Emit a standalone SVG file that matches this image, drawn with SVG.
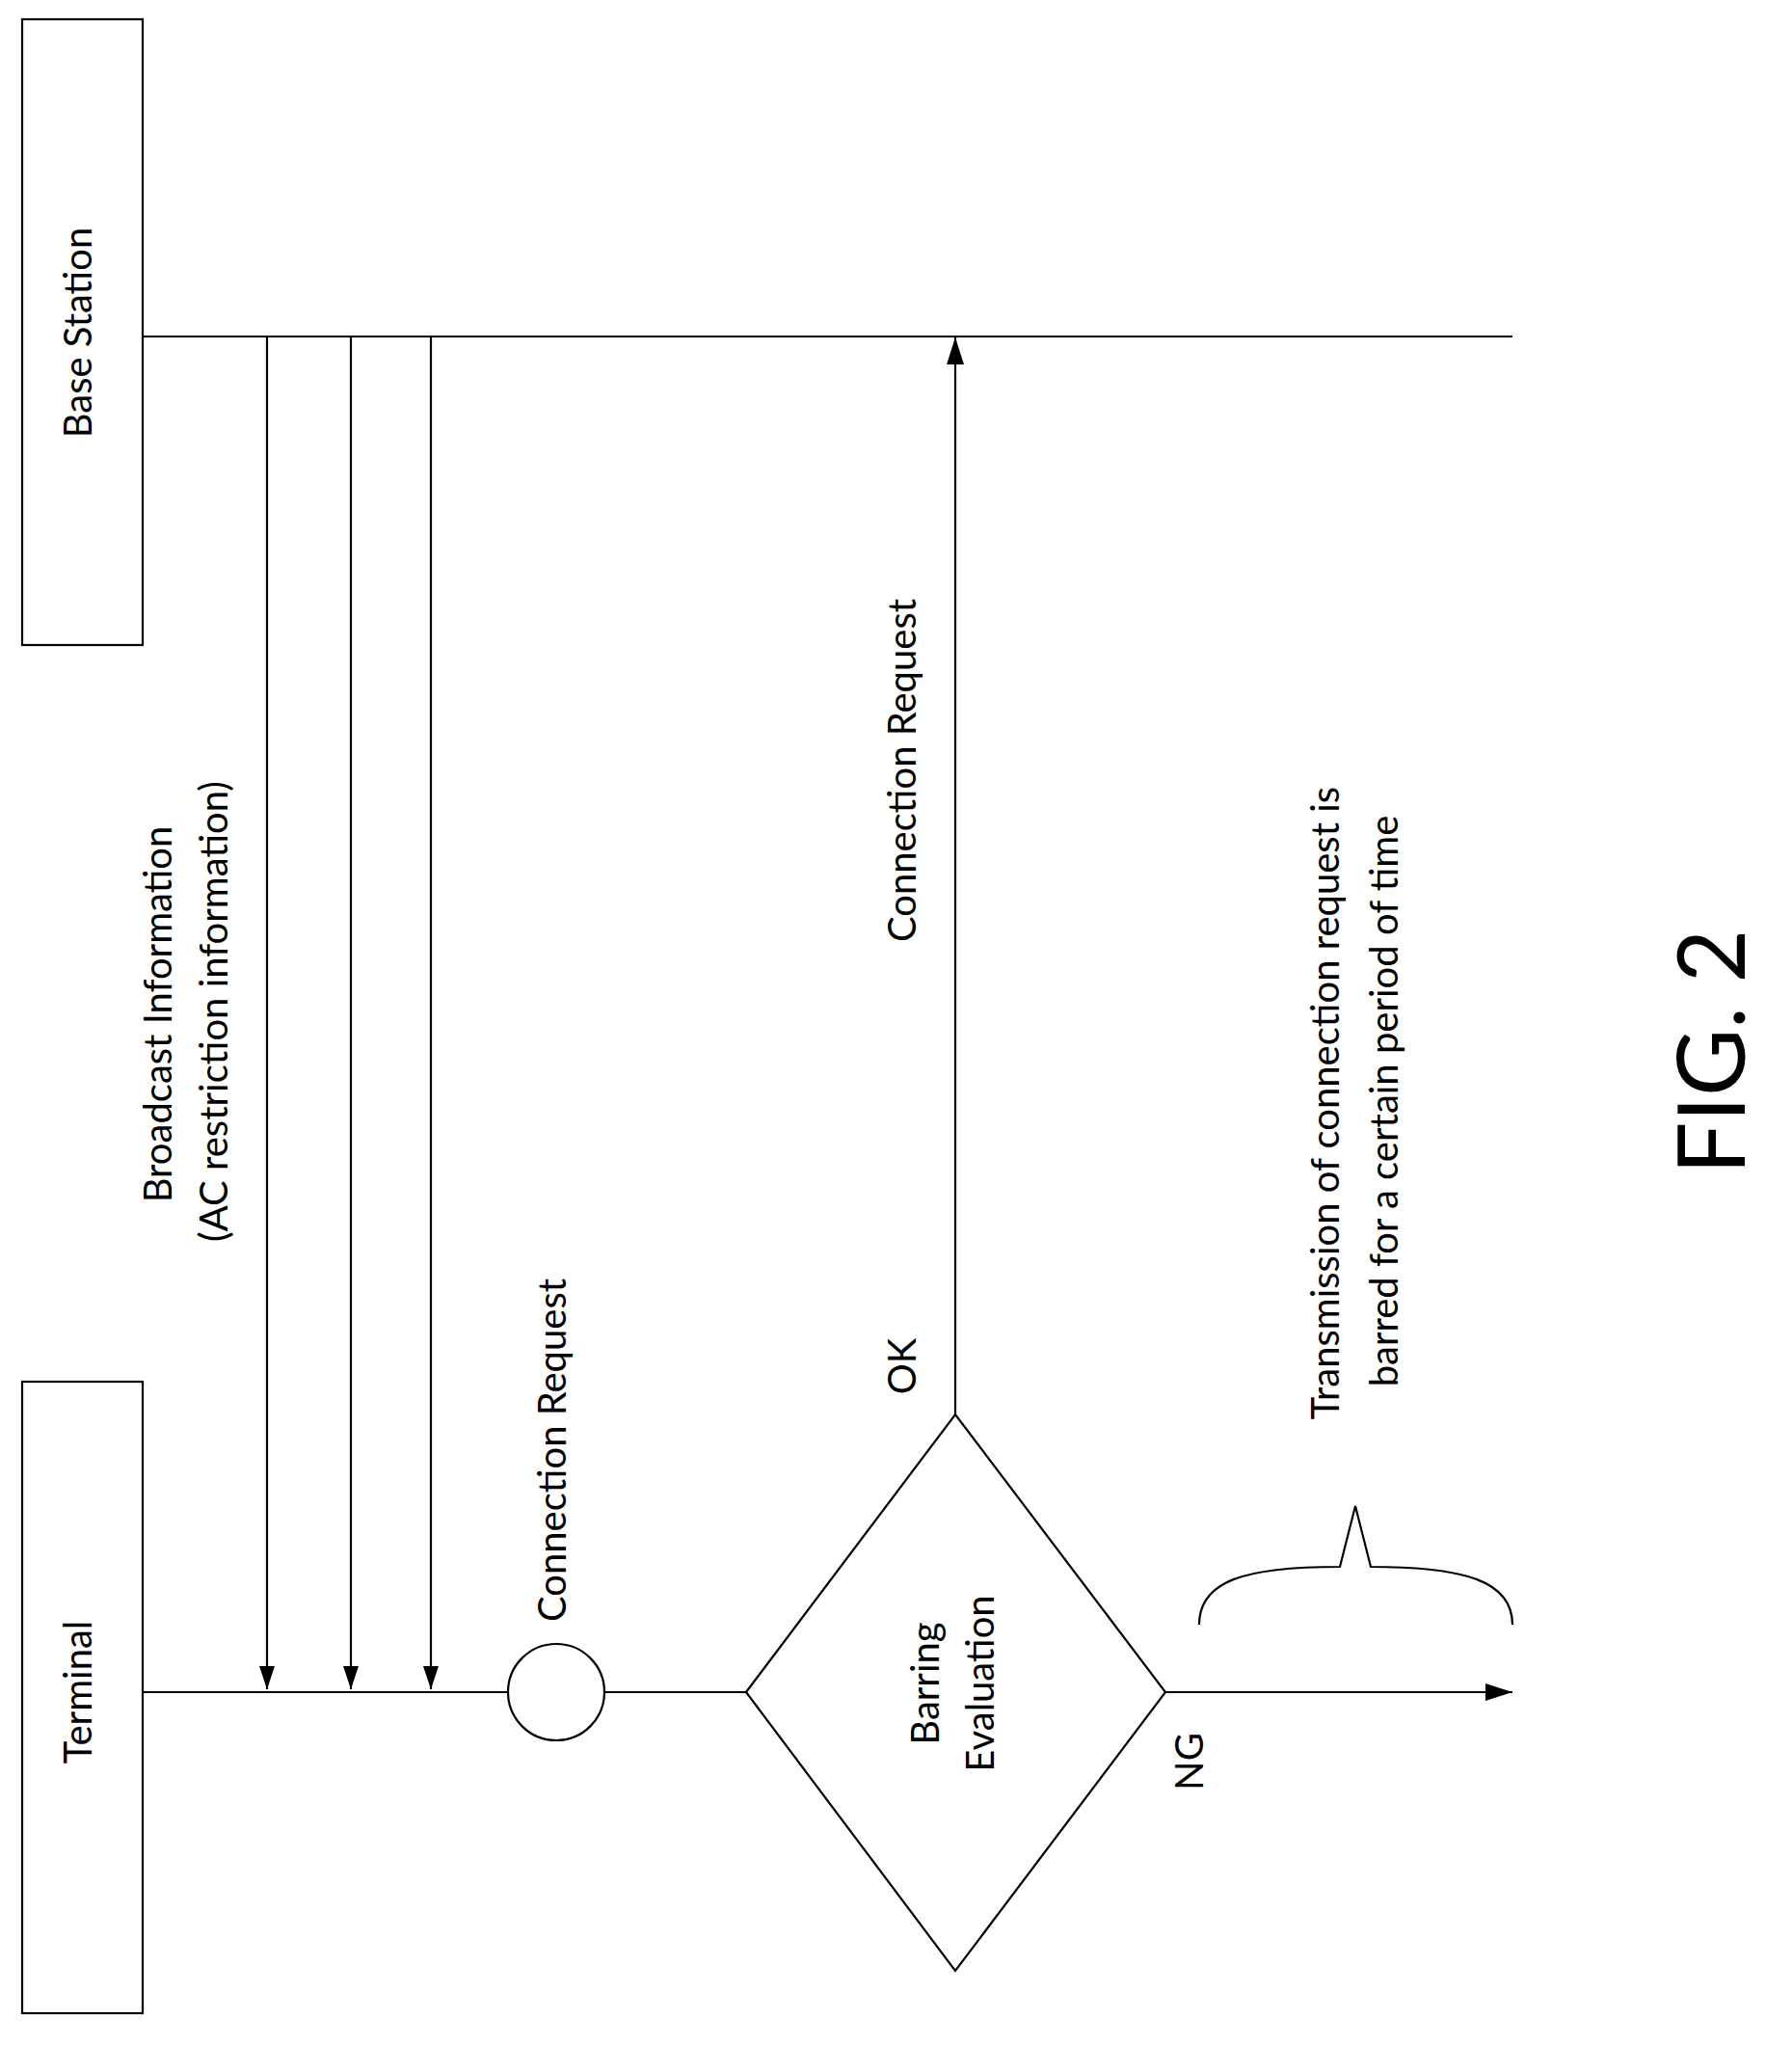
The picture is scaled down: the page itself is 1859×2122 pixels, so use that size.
<svg xmlns="http://www.w3.org/2000/svg" width="1859" height="2122" viewBox="0 0 1859 2122">
<style>
.s{fill:none;stroke:#000;stroke-width:2.2}
text{font-family:Lato,"Open Sans",sans-serif;font-size:40px;fill:#000;text-anchor:middle;dominant-baseline:middle}
</style>
<defs><marker id="a" markerWidth="16" markerHeight="24" refX="8" refY="24" orient="0" markerUnits="userSpaceOnUse" viewBox="0 0 16 24"><path d="M0,0L16,0L8,24z" fill="#000"/></marker>
<marker id="b" markerWidth="28" markerHeight="18" refX="28" refY="9" orient="auto" markerUnits="userSpaceOnUse" viewBox="0 0 28 18"><path d="M0,0L28,9L0,18z" fill="#000"/></marker></defs>
<rect width="1859" height="2122" fill="#fff"/>
<g id="base"><rect class="s" x="23" y="20" width="125" height="649"/><text transform="translate(85,345) rotate(-90)">Base Station</text></g>
<g id="terminal"><rect class="s" x="23" y="1433" width="125" height="655"/><text transform="translate(85,1755) rotate(-90)">Terminal</text></g>
<g id="circle"><circle class="s" cx="577" cy="1755" r="50"/></g>
<g id="diamond"><path class="s" d="M774,1755L991,1467L1209,1755L991,2044Z"/><text transform="translate(964,1746) rotate(-90)">Barring</text><text transform="translate(1021,1746) rotate(-90)">Evaluation</text></g>
<g id="connectors">
<path class="s" d="M148,349H1569M148,1755H527M627,1755H774"/>
<path class="s" d="M277,349V1752" marker-end="url(#a)"/>
<path class="s" d="M364,349V1752" marker-end="url(#a)"/>
<path class="s" d="M447,349V1752" marker-end="url(#a)"/>
<path class="s" d="M991,1467V350" marker-end="url(#b)"/>
<path class="s" d="M1209,1755H1569" marker-end="url(#b)"/>
<path class="s" d="M1244,1685C1244,1640 1290,1625 1390,1625L1406,1562L1422,1625C1520,1625 1569,1640 1569,1685"/>
</g>
<g id="labels">
<text transform="translate(168,1052) rotate(-90)">Broadcast Information</text>
<text transform="translate(226,1049) rotate(-90)">(AC restriction information)</text>
<text transform="translate(577,1504) rotate(-90)">Connection Request</text>
<text transform="translate(940,799) rotate(-90)">Connection Request</text>
<text transform="translate(940,1417) rotate(-90)">OK</text>
<text transform="translate(1238,1827) rotate(-90)">NG</text>
<text transform="translate(1379,1144) rotate(-90)">Transmission of connection request is</text>
<text transform="translate(1440,1142) rotate(-90)">barred for a certain period of time</text>
<text transform="translate(1786,1091) rotate(-90)" style="font-size:96px">FIG. 2</text>
</g>
</svg>
